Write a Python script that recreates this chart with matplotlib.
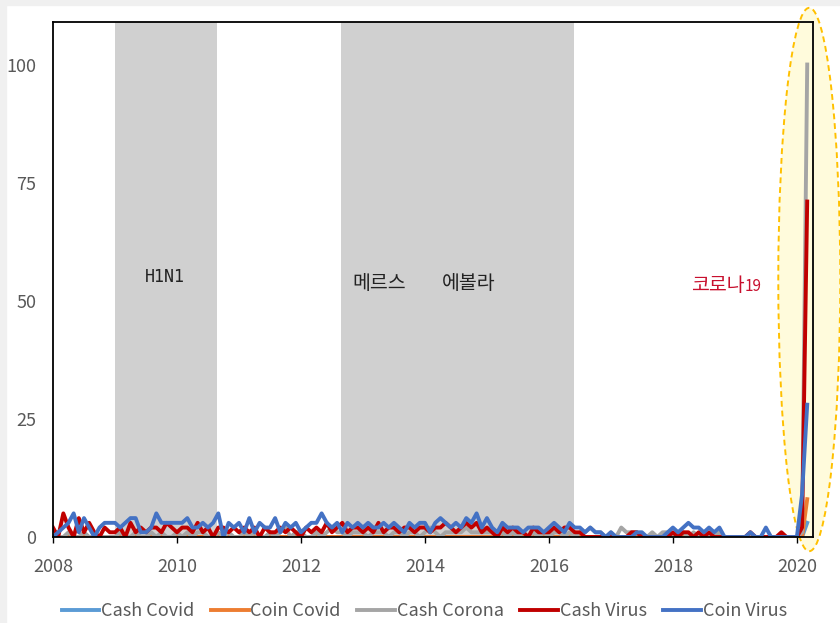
import matplotlib.pyplot as plt
from matplotlib.patches import Ellipse, Rectangle
import numpy as np

# monthly search index, Jan 2008 .. Mar 2020
coin_virus = [0, 1, 2, 3, 5, 1, 4, 2, 0, 2, 3, 3,
              3, 2, 3, 4, 4, 1, 1, 2, 5, 3, 3, 3,
              3, 3, 4, 2, 2, 3, 2, 3, 5, 0, 3, 2,
              3, 1, 4, 1, 3, 2, 2, 4, 1, 3, 2, 3,
              1, 2, 3, 3, 5, 3, 2, 3, 1, 3, 2, 3,
              2, 3, 2, 2, 3, 2, 3, 2, 1, 3, 2, 3,
              3, 1, 3, 4, 3, 2, 3, 2, 4, 3, 5, 2,
              4, 2, 1, 3, 2, 2, 2, 1, 2, 2, 2, 1,
              2, 3, 2, 1, 3, 2, 2, 1, 2, 1, 1, 0,
              1, 0, 0, 0, 0, 1, 1, 0, 0, 0, 0, 1,
              2, 1, 2, 3, 2, 2, 1, 2, 1, 2, 0, 0,
              0, 0, 0, 1, 0, 0, 2, 0, 0, 0, 0, 0,
              0, 9, 28]
cash_virus = [2, 0, 5, 2, 0, 4, 1, 3, 1, 0, 2, 1,
              1, 2, 0, 3, 1, 2, 1, 2, 2, 1, 3, 2,
              1, 2, 2, 1, 3, 1, 2, 0, 2, 2, 1, 2,
              1, 2, 1, 2, 0, 2, 1, 1, 2, 1, 2, 1,
              0, 2, 1, 2, 1, 3, 1, 2, 3, 1, 2, 2,
              1, 2, 1, 3, 1, 2, 2, 1, 2, 2, 1, 2,
              2, 1, 2, 2, 3, 2, 1, 2, 3, 2, 3, 1,
              2, 1, 0, 2, 1, 2, 1, 1, 0, 2, 1, 1,
              1, 2, 1, 2, 2, 1, 1, 0, 0, 0, 0, 0,
              0, 0, 0, 0, 1, 1, 0, 0, 0, 0, 0, 0,
              1, 0, 1, 1, 0, 1, 0, 1, 0, 0, 0, 0,
              0, 0, 0, 1, 0, 0, 0, 0, 0, 1, 0, 0,
              0, 2, 71]
cash_corona = [0, 0, 0, 1, 0, 0, 1, 0, 0, 0, 0, 0,
               0, 1, 0, 0, 1, 0, 0, 1, 0, 1, 0, 0,
               1, 0, 1, 0, 1, 1, 0, 0, 1, 0, 1, 0,
               0, 1, 0, 1, 0, 0, 1, 0, 1, 2, 0, 1,
               1, 0, 0, 1, 0, 1, 2, 1, 1, 0, 1, 1,
               1, 0, 1, 1, 1, 0, 1, 1, 0, 1, 1, 0,
               1, 2, 1, 0, 1, 1, 1, 1, 2, 1, 1, 1,
               1, 1, 0, 1, 0, 1, 0, 1, 0, 1, 0, 1,
               0, 1, 1, 0, 1, 0, 1, 1, 2, 1, 1, 0,
               1, 0, 2, 1, 1, 1, 0, 0, 1, 0, 1, 1,
               0, 0, 1, 0, 1, 0, 0, 0, 0, 1, 0, 0,
               0, 0, 0, 0, 0, 0, 0, 0, 0, 0, 0, 0,
               0, 1, 100]
coin_covid = [0] * 146 + [8]
cash_covid = [0] * 146 + [3]

series = [("Cash Covid", cash_covid, "#5b9bd5"),
          ("Coin Covid", coin_covid, "#ed7d31"),
          ("Cash Corona", cash_corona, "#a5a5a5"),
          ("Cash Virus", cash_virus, "#c00000"),
          ("Coin Virus", coin_virus, "#4472c4")]

# outbreak periods (decimal years)
periods = [(2009.0, 2010.65), (2012.65, 2016.4)]

plt.rcParams['font.family'] = ['Noto Sans CJK KR', 'DejaVu Sans']

fig = plt.figure(figsize=(8.4, 6.23), dpi=100)
# grey screenshot border
fig.patches.append(Rectangle((0, 1 - 5 / 623), 1, 5 / 623, transform=fig.transFigure,
                             color="#f0f0f0", zorder=0))
fig.patches.append(Rectangle((0, 0), 6 / 840, 1, transform=fig.transFigure,
                             color="#f0f0f0", zorder=0))

ax = fig.add_axes([53 / 840, 86 / 623, 760 / 840, 515 / 623])

for a, b in periods:
    ax.axvspan(a, b, color="#d0d0d0", lw=0, zorder=0.5)

ell = Ellipse((2020.2, 54.5), 1.0, 115, facecolor="#fffbdc", edgecolor="#ffc000",
              ls=(0, (3, 2)), lw=1.4, clip_on=False, zorder=0.8)
ax.add_patch(ell)

x = 2008 + np.arange(len(coin_virus)) / 12
for name, vals, col in series:
    ax.plot(x, vals, color=col, lw=2.8, label=name, zorder=2, solid_joinstyle='round')

ax.text(2009.8, 55, "H1N1", ha='center', va='center', fontsize=12,
        family=['DejaVu Sans Mono', 'DejaVu Sans'], color="#222222")
ax.text(2013.27, 53.6, "메르스", ha='center', va='center', fontsize=14, color="#222222")
ax.text(2014.7, 53.6, "에볼라", ha='center', va='center', fontsize=14, color="#222222")
ax.text(2019.16, 52, "코로나", ha='right', va='baseline', fontsize=14, color="#c8102e")
ax.text(2019.16, 52, "19", ha='left', va='baseline', fontsize=11, color="#c8102e")

ax.set_xlim(2008, 2020.26)
ax.set_ylim(0, 109)
ax.set_xticks(range(2008, 2021, 2))
ax.set_yticks([0, 25, 50, 75, 100])
ax.tick_params(axis='x', direction='out', length=4, width=1, pad=11,
               labelsize=13, labelcolor="#595959")
ax.tick_params(axis='y', length=0, pad=12, labelsize=13, labelcolor="#595959")
for s in ax.spines.values():
    s.set_linewidth(1.3)
    s.set_color("black")

fig.legend(loc='lower center', bbox_to_anchor=(0.505, -0.022), ncol=5, frameon=False,
           fontsize=13, handlelength=2.1, handletextpad=0.1, columnspacing=0.9,
           labelcolor="#595959")

plt.savefig("out.png", dpi=100)
